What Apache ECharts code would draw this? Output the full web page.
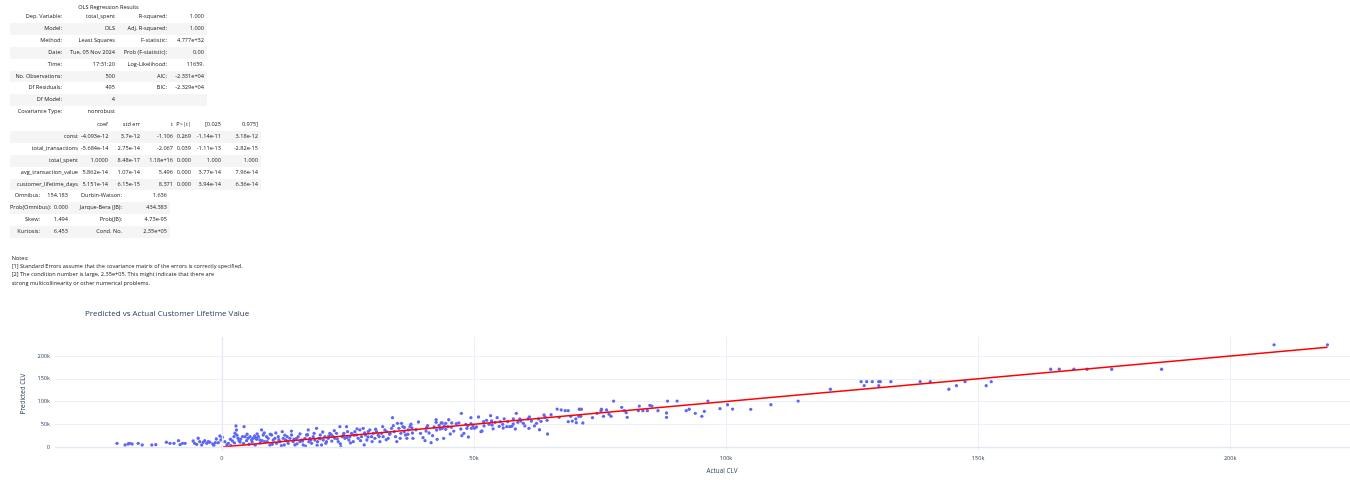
<!DOCTYPE html>
<html>
<head>
<meta charset="utf-8">
<script src="https://cdn.jsdelivr.net/npm/echarts@6/dist/echarts.min.js"></script>
<style>
html,body{margin:0;padding:0;background:#fff;width:1350px;height:487px;overflow:hidden;position:relative;}
#chart{position:absolute;left:0;top:0;width:1420px;height:487px;}
#summary{position:absolute;left:0;top:0;z-index:2;font-family:"Open Sans",sans-serif;font-size:5.6px;color:#222;}
.tbl{position:absolute;border-collapse:collapse;table-layout:fixed;}
.tbl td{height:11.85px;padding:0 3px 0 0;text-align:right;white-space:nowrap;line-height:11.85px;overflow:visible;}
.tbl tr.g td{background:#f5f5f5;}
#caption{position:absolute;left:10px;width:197px;top:3.5px;text-align:center;line-height:7px;}
#notes{position:absolute;left:11.7px;top:253.5px;line-height:8.45px;white-space:nowrap;}
</style>
</head>
<body>
<div id="chart"></div>
<div id="summary"></div>
<script>
// ---- Regression summary text ----
const summaryTitle = "OLS Regression Results";
const topRows = [
  ["Dep. Variable:", "total_spent", "R-squared:", "1.000"],
  ["Model:", "OLS", "Adj. R-squared:", "1.000"],
  ["Method:", "Least Squares", "F-statistic:", "4.777e+32"],
  ["Date:", "Tue, 05 Nov 2024", "Prob (F-statistic):", "0.00"],
  ["Time:", "17:31:20", "Log-Likelihood:", "11659."],
  ["No. Observations:", "500", "AIC:", "-2.331e+04"],
  ["Df Residuals:", "495", "BIC:", "-2.329e+04"],
  ["Df Model:", "4", "", ""],
  ["Covariance Type:", "nonrobust", "", ""]
];
const coefHeader = ["", "coef", "std err", "t", "P>|t|", "[0.025", "0.975]"];
const coefRows = [
  ["const", "-4.093e-12", "3.7e-12", "-1.106", "0.269", "-1.14e-11", "3.18e-12"],
  ["total_transactions", "-5.684e-14", "2.75e-14", "-2.067", "0.039", "-1.11e-13", "-2.82e-15"],
  ["total_spent", "1.0000", "8.48e-17", "1.18e+16", "0.000", "1.000", "1.000"],
  ["avg_transaction_value", "5.862e-14", "1.07e-14", "5.496", "0.000", "3.77e-14", "7.96e-14"],
  ["customer_lifetime_days", "5.151e-14", "6.15e-15", "8.371", "0.000", "3.94e-14", "6.36e-14"]
];
const diagRows = [
  ["Omnibus:", "154.183", "Durbin-Watson:", "1.636"],
  ["Prob(Omnibus):", "0.000", "Jarque-Bera (JB):", "434.383"],
  ["Skew:", "1.494", "Prob(JB):", "4.73e-95"],
  ["Kurtosis:", "6.453", "Cond. No.", "2.35e+05"]
];
const notesLines = [
  "Notes:",
  "[1] Standard Errors assume that the covariance matrix of the errors is correctly specified.",
  "[2] The condition number is large, 2.35e+05. This might indicate that there are",
  "strong multicollinearity or other numerical problems."
];

// ---- Chart data (values in thousands) ----
const chartTitle = "Predicted vs Actual Customer Lifetime Value";
const xAxisTitle = "Actual CLV";
const yAxisTitle = "Predicted CLV";
const tickValues = [0, 50000, 100000, 150000, 200000];
const actualK = [
 -20.8,-19.2,-18.6,-18.3,-17.8,-16.6,-15.8,-13.9,-13.1,-11.0,-10.3,-9.5,-8.6,-8.3,-7.8,-7.3,-5.7,-5.4,-5.0,-4.7,-4.4,-4.0,-3.7,-3.4,-3.0,-2.7,-2.4,-1.8,-1.6,-1.3,-1.1,-0.7,-0.4,-0.2,0.1,0.6,1.3,1.7,2.1,2.4,2.6,2.8,2.9,3.2,3.4,3.7,4.1,4.4,4.6,4.9,5.2,5.6,5.9,6.2,6.5,6.9,7.2,
 6.75,7.21,7.54,7.87,8.20,8.53,8.86,9.19,9.52,9.86,10.19,10.52,10.85,11.18,11.51,11.97,12.17,12.37,12.63,12.96,13.16,13.49,13.82,14.15,14.48,14.81,15.14,15.47,15.80,16.13,16.47,16.80,17.13,17.26,17.46,17.79,18.12,18.45,18.78,18.98,19.24,19.51,19.77,20.10,20.43,20.76,21.09,21.42,21.75,22.08,22.41,22.74,23.08,23.41,23.60,23.87,24.13,24.40,24.73,24.93,25.19,25.39,25.72,26.05,26.38,26.71,27.04,27.37,27.70,28.03,28.23,28.50,28.76,29.02,29.35,29.69,30.02,30.35,30.68,31.01,31.34,31.67,32.00,32.33,32.66,32.99,33.32,33.65,33.85,34.18,34.44,34.84,35.11,35.37,35.63,35.90,36.16,36.43,36.69,36.96,
 37.3,37.7,37.8,37.9,39.4,39.9,40.3,40.5,40.6,40.8,41.1,41.5,42.1,42.5,42.5,42.6,42.7,43.1,43.3,43.5,43.7,43.7,44.0,44.1,44.4,44.4,44.8,45.3,45.5,45.6,46.5,47.0,47.4,47.5,47.6,48.4,48.6,48.8,48.9,49.4,49.4,49.5,49.8,50.1,50.5,50.9,51.4,51.6,51.9,52.0,52.5,53.0,53.3,53.5,53.6,54.2,54.6,55.0,55.2,55.7,55.8,56.5,56.7,57.1,57.5,57.8,57.8,58.2,58.4,58.7,59.1,59.3,59.8,60.1,60.7,60.9,61.4,62.0,62.4,62.8,63.3,63.9,64.1,64.5,64.6,65.3,66.5,66.9,67.3,
 68.1,68.7,69.2,68.7,69.5,70.2,70.3,70.8,70.9,71.3,71.2,71.6,73.5,74.4,75.2,75.3,75.7,76.3,76.8,77.2,77.7,79.3,79.8,80.2,80.4,82.6,82.8,83.5,84.4,84.9,85.3,86.5,88.2,88.2,88.4,90.3,92.1,92.7,93.9,95.2,95.7,96.4,
 98.8,100.3,101.3,104.9,108.9,114.3,120.7,126.8,127.4,127.9,129.0,130.3,130.6,130.3,132.7,138.5,140.5,144.2,145.7,147.4,151.6,152.6,164.4,166.1,169.0,171.6,176.5,186.4,208.7,219.3,
 1.0,1.8,2.5,3.0,3.6,4.3,5.0,5.4,6.0,6.6,7.0,7.6,8.0,8.4,9.0,9.6,10.0,10.7,11.3,11.8,12.5,13.0,13.8,14.3,14.9,15.5,16.0,16.6,17.0,17.6,18.3,18.9,19.5,20.0,20.6,21.2,21.8,22.3,22.9,23.5,24.2,24.8,25.5,26.2,26.8,27.5,28.3,29.0,29.8,30.5,31.2,31.9,32.6,33.3,34.0,34.7,35.5,36.2,36.9,37.5,38.5,39.0,41.8,45.0,46.0,48.0,53.8,56.0,61.0,63.0
];
const predictedK = [
 8.1,4.4,6.6,8.1,6.6,8.1,4.4,4.4,5.1,10.4,8.1,8.1,13.9,5.1,8.1,8.1,13.2,8.1,5.9,19.2,11.7,4.4,10.4,13.9,8.1,11.7,10.4,6.6,3.7,9.5,17.6,9.5,24.2,15.4,21.4,11.7,8.1,17.0,13.2,22.7,30.2,46.3,37.4,19.2,13.9,17.0,22.7,44.7,22.7,13.9,19.2,22.7,15.4,19.2,24.2,17.0,22.7,
 19.1,22.8,15.4,37.5,26.4,11.8,22.8,19.1,4.4,26.4,15.4,19.1,8.1,22.8,11.8,33.8,19.1,4.4,15.4,22.8,8.1,19.1,26.4,11.8,4.4,19.1,22.8,11.8,15.4,4.4,19.1,26.4,37.5,11.8,19.1,8.1,22.8,15.4,41.1,11.8,19.1,26.4,4.4,15.4,22.8,11.8,19.1,30.1,26.4,22.8,19.1,30.1,11.8,44.8,0.8,22.8,26.4,19.1,44.8,33.8,15.4,22.8,30.1,11.8,33.8,26.4,19.1,37.5,22.8,41.1,4.4,26.4,15.4,33.8,37.5,22.8,30.1,19.1,33.8,26.4,11.8,30.1,22.8,37.5,33.8,19.1,30.1,41.1,64.6,33.8,22.8,52.1,41.1,19.1,52.1,44.8,33.8,26.4,19.1,37.5,
 44.7,41.8,30.8,19.0,30.0,20.5,13.9,35.2,42.5,46.9,30.8,9.5,44.0,60.0,54.3,37.4,16.9,47.6,39.6,52.9,41.1,52.9,19.0,46.3,38.9,52.0,44.7,28.6,43.3,52.9,51.3,52.9,39.6,74.0,24.9,49.9,41.1,46.9,22.0,64.6,51.3,41.1,46.9,41.1,44.0,66.0,33.7,35.2,55.7,46.3,58.7,49.9,68.9,57.2,48.4,54.3,64.6,45.5,55.7,49.9,41.8,44.7,55.7,44.7,45.5,50.6,61.7,39.6,74.0,54.3,61.7,57.2,52.0,46.3,61.7,41.1,57.2,46.3,52.0,61.7,56.5,70.5,66.0,58.7,28.6,71.0,83.5,65.3,81.5,
 80.0,80.0,67.4,55.7,57.0,61.7,53.5,67.5,83.0,83.0,67.5,52.8,64.6,74.0,80.0,83.0,67.5,81.5,72.0,67.5,101.0,87.2,80.0,75.5,65.3,80.0,90.0,80.0,80.0,91.6,90.0,80.0,74.8,65.3,101.0,101.0,80.0,83.0,74.0,67.5,78.4,101.0,
 84.4,93.0,83.5,82.8,93.0,101.0,127.0,143.8,135.0,143.8,143.8,143.8,143.8,135.0,143.8,143.8,143.8,127.0,135.0,143.8,135.0,143.8,171.0,171.0,171.0,171.0,171.0,171.0,224.7,224.7,
 5,3,9,26,11,8,28,6,11,4,29,9,14,31,12,28,6,31,16,3,26,13,35,17,7,29,13,2,27,15,30,4,18,33,8,24,13,36,18,7,30,21,9,26,40,14,31,22,12,39,23,45,16,28,47,12,30,43,28,50,38,55,25,60,35,30,40,62,66,38
];
const fitLineK = [0, 219.3];

// ---- Build summary tables ----
function makeTable(rows, left, top, widths, grayIdx, header) {
  const t = document.createElement('table');
  t.className = 'tbl';
  t.style.left = left + 'px';
  t.style.top = top + 'px';
  const total = widths.reduce((a, b) => a + b, 0);
  t.style.width = total + 'px';
  const cg = document.createElement('colgroup');
  widths.forEach(w => { const c = document.createElement('col'); c.style.width = w + 'px'; cg.appendChild(c); });
  t.appendChild(cg);
  const all = header ? [header].concat(rows) : rows;
  all.forEach((r, i) => {
    const tr = document.createElement('tr');
    if (grayIdx.indexOf(i) >= 0) tr.className = 'g';
    r.forEach(cell => { const td = document.createElement('td'); td.textContent = cell; tr.appendChild(td); });
    t.appendChild(tr);
  });
  return t;
}
const sum = document.getElementById('summary');
const cap = document.createElement('div'); cap.id = 'caption'; cap.textContent = summaryTitle; sum.appendChild(cap);
sum.appendChild(makeTable(topRows, 10, 11.3, [55, 53, 52, 37], [1, 3, 5, 7]));
sum.appendChild(makeTable(coefRows, 10, 119.3, [71, 30, 32, 33, 18, 30, 37], [1, 3, 5], coefHeader));
sum.appendChild(makeTable(diagRows, 10, 190.4, [33, 28, 54, 45], [1, 3]));
const notes = document.createElement('div'); notes.id = 'notes';
notes.innerHTML = notesLines.map(s => s.replace(/&/g,'&amp;').replace(/</g,'&lt;')).join('<br>');
sum.appendChild(notes);

// ---- Chart ----
const scatterData = actualK.map((x, i) => [x * 1000, predictedK[i] * 1000]);
const lineData = fitLineK.map(v => [v * 1000, v * 1000]);
const axisFont = { color: '#2a3f5f', fontFamily: '"Open Sans", sans-serif', fontSize: 5.6 };
const fmt = v => v === 0 ? '0' : (v / 1000) + 'k';
const chart = echarts.init(document.getElementById('chart'), null, { renderer: 'canvas' });
chart.setOption({
  animation: false,
  backgroundColor: '#fff',
  title: {
    text: chartTitle, left: 80, top: 304.5,
    textStyle: { color: '#2a3f5f', fontFamily: '"Open Sans", sans-serif', fontSize: 8, fontWeight: 'normal' }
  },
  grid: { left: 55, top: 337, width: 1334, height: 114 },
  xAxis: {
    type: 'value', min: -33100, max: 231500,
    name: xAxisTitle, nameLocation: 'middle', nameGap: 17,
    nameTextStyle: { color: '#2a3f5f', fontFamily: '"Open Sans", sans-serif', fontSize: 6.3 },
    axisLine: { show: false },
    axisTick: { show: false, customValues: tickValues },
    axisLabel: Object.assign({ customValues: tickValues, formatter: fmt, margin: 4 }, axisFont),
    splitLine: { show: true, lineStyle: { color: '#ebf0f8', width: 1 } }
  },
  yAxis: {
    type: 'value', min: -8800, max: 242000,
    name: yAxisTitle, nameLocation: 'middle', nameGap: 28,
    nameTextStyle: { color: '#2a3f5f', fontFamily: '"Open Sans", sans-serif', fontSize: 6.3 },
    axisLine: { show: false },
    axisTick: { show: false, customValues: tickValues },
    axisLabel: Object.assign({ customValues: tickValues, formatter: fmt, margin: 5 }, axisFont),
    splitLine: { show: true, lineStyle: { color: '#ebf0f8', width: 1 } }
  },
  series: [
    {
      type: 'scatter', data: scatterData, symbolSize: 3.3,
      itemStyle: { color: '#5c67f5', opacity: 1 },
      markLine: {
        silent: true, symbol: 'none', label: { show: false },
        lineStyle: { color: '#e3e9f4', width: 1.3, type: 'solid' },
        data: [{ xAxis: 0 }, { yAxis: 0 }]
      },
      z: 2
    },
    {
      type: 'line', data: lineData, showSymbol: false, symbol: 'none',
      lineStyle: { color: '#ff0000', width: 1.5 }, z: 3
    }
  ]
});
</script>
</body>
</html>
